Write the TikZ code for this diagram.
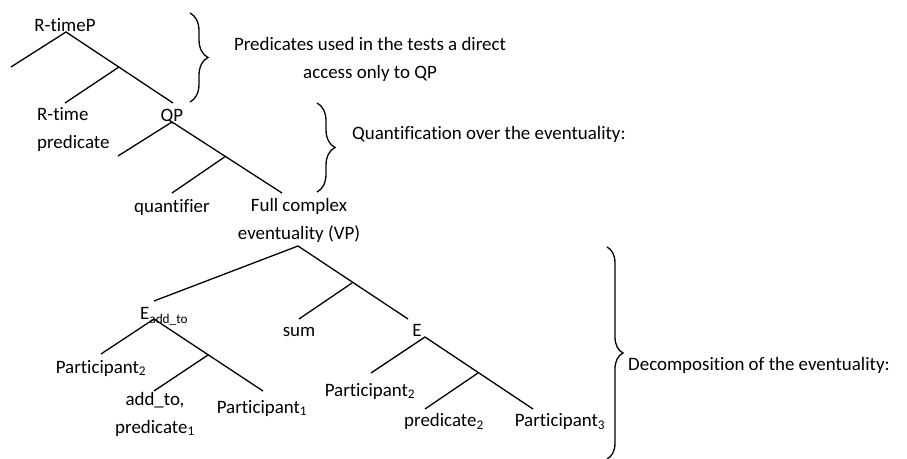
\documentclass[tikz,border=0pt]{standalone}
\usepackage{fontspec}
\setmainfont{Carlito}[Ligatures=CommonOff]
\usetikzlibrary{decorations.pathreplacing}

\begin{document}
\begin{tikzpicture}[x=1bp,y=-1bp,
  branch/.style={line width=1.3bp},
  lbl/.style={inner sep=0pt, anchor=base, font=\fontsize{19}{27.6}\selectfont},
  lblw/.style={lbl, anchor=base west},
  curly/.style={line width=1.3bp, decorate, decoration={brace, amplitude=#1}}]
\useasboundingbox (0,0) rectangle (907,459);

% ---- R-timeP ----
\node[lbl] (rtp) at (65,31.7) {R-timeP};
\coordinate (r1) at (66,32);
\coordinate (r1L) at (11,67);
\coordinate (r1M) at (119,67);
\coordinate (r1ML) at (65,103);
\coordinate (r1R) at (173,103);
\draw[branch] (r1L) -- (r1) -- (r1R);
\draw[branch] (r1M) -- (r1ML);
% multi-line labels: base anchor sits on the last line
\node[lblw, align=left] (rtpred) at (37,148.3) {R-time\\predicate};

% ---- QP ----
\node[lbl] (qp) at (172,121.7) {QP};
\coordinate (q) at (172,122);
\coordinate (qL) at (118,156);
\coordinate (qM) at (226,156);
\coordinate (qML) at (172,193);
\coordinate (qR) at (282,193);
\draw[branch] (qL) -- (q) -- (qR);
\draw[branch] (qM) -- (qML);
\node[lbl] (quant) at (172,212.7) {quantifier};
\node[lbl, align=center] (fce) at (299,239.3) {Full complex\\eventuality (VP)};

% ---- VP ----
\coordinate (v) at (298,246);
\coordinate (vL) at (154,301);
\coordinate (vM) at (352,283);
\coordinate (vML) at (299,319);
\coordinate (vR) at (408,319);
\draw[branch] (vL) -- (v) -- (vR);
\draw[branch] (vM) -- (vML);
\node[lbl] (sum) at (299,336.7) {sum};

% ---- E_add_to ----
\node[lblw] (eadd) at (140,320) {E\textsubscript{add\_to}};
\coordinate (a) at (154,319);
\coordinate (aL) at (101,354);
\coordinate (aM) at (208,355);
\coordinate (aML) at (154,391);
\coordinate (aR) at (263,391);
\draw[branch] (aL) -- (a) -- (aR);
\draw[branch] (aM) -- (aML);
\node[lbl] (pa2) at (101,373.3) {Participant\textsubscript{2}};
\node[lbl, align=center] (addto) at (155,433.3) {add\_to,\\predicate\textsubscript{1}};
\node[lbl] (pa1) at (262,413.3) {Participant\textsubscript{1}};

% ---- E ----
\node[lbl] (enode) at (417,336.7) {E};
\coordinate (e) at (425,337);
\coordinate (eL) at (371,373);
\coordinate (eM) at (478,373);
\coordinate (eML) at (425,409);
\coordinate (eR) at (533,409);
\draw[branch] (eL) -- (e) -- (eR);
\draw[branch] (eM) -- (eML);
\node[lbl] (pb2) at (370,396) {Participant\textsubscript{2}};
\node[lbl] (pred2) at (444,426.7) {predicate\textsubscript{2}};
\node[lbl] (pb3) at (560,426.7) {Participant\textsubscript{3}};

% ---- braces and comments ----
\coordinate (b1t) at (190,13);
\coordinate (b1b) at (190,102);
\draw[curly=18bp] (b1t) -- (b1b);
\node[lbl, align=center] (c1) at (370,78.5) {Predicates used in the tests a direct\\access only to QP};

\coordinate (b2t) at (317,103);
\coordinate (b2b) at (317,192);
\draw[curly=18bp] (b2t) -- (b2b);
\node[lblw] (c2) at (352,139.5) {Quantification over the eventuality:};

\coordinate (b3t) at (607,247);
\coordinate (b3b) at (607,459);
\draw[curly=16bp] (b3t) -- (b3b);
\node[lblw] (c3) at (628,370.7) {Decomposition of the eventuality:};
\end{tikzpicture}
\end{document}
